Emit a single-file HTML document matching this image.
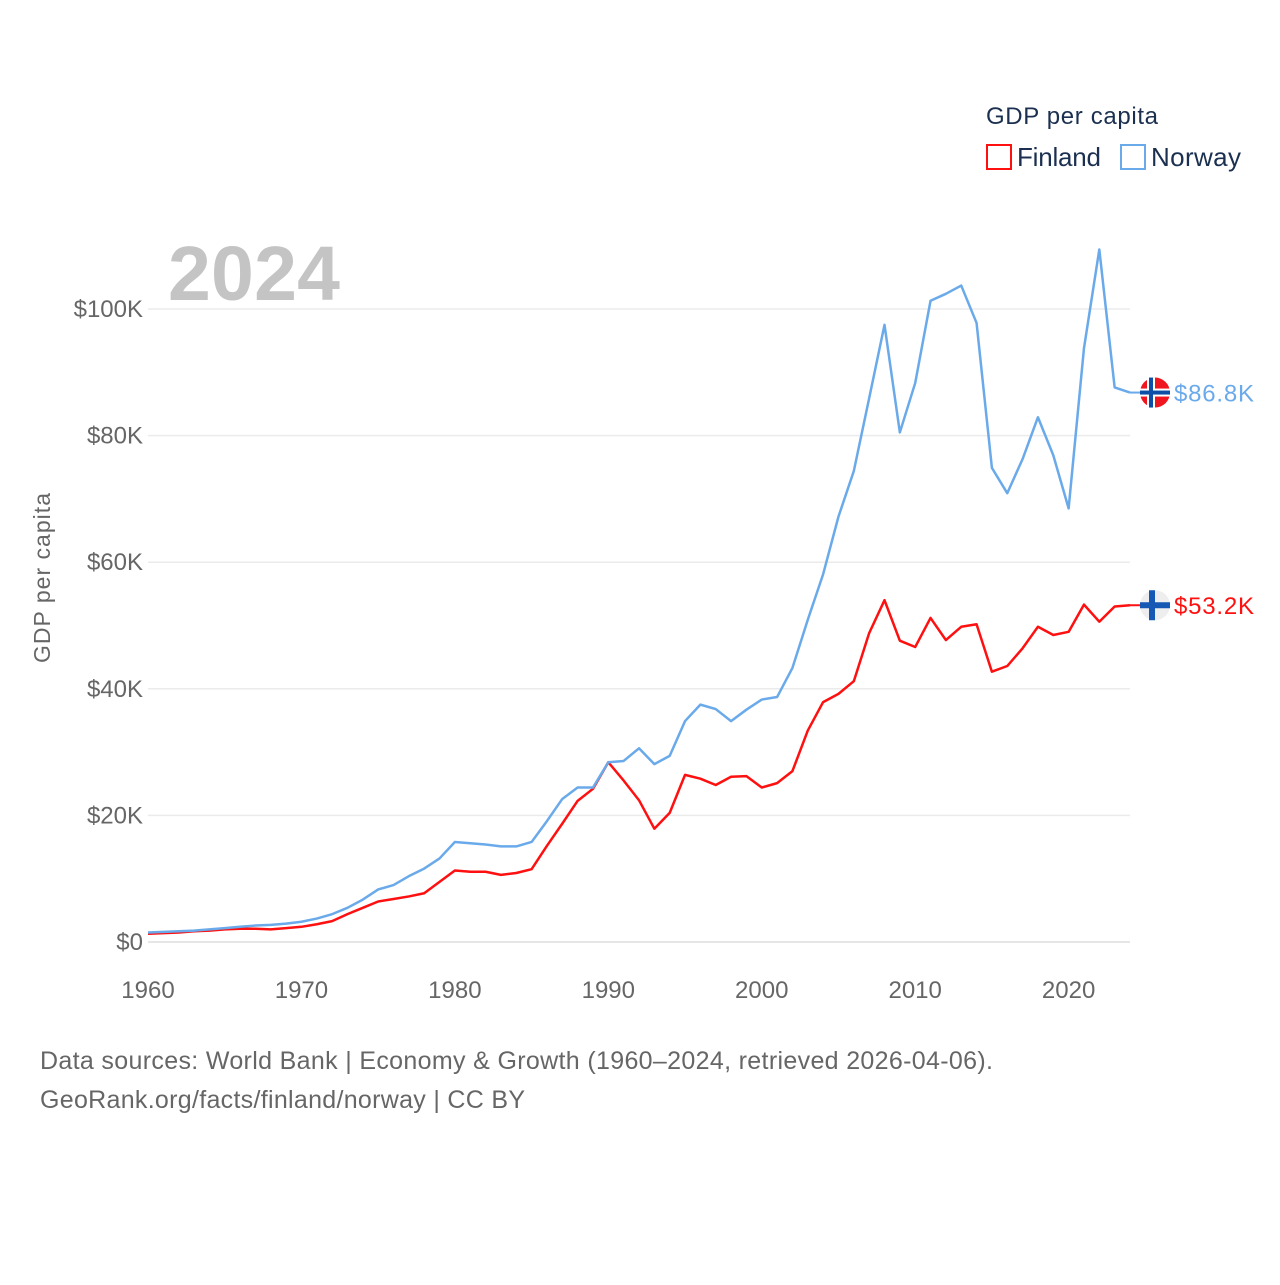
<!DOCTYPE html>
<html><head><meta charset="utf-8"><style>
body{margin:0;background:#fff;}
svg text{font-family:"Liberation Sans",sans-serif;}
</style></head><body>
<svg width="1280" height="1280" viewBox="0 0 1280 1280" xmlns="http://www.w3.org/2000/svg">
<rect width="1280" height="1280" fill="#fff"/>
<g id="grid"></g>
<g id="yticks"></g>
<g id="xticks"></g>
<text x="168" y="300" font-size="77" font-weight="bold" fill="#c4c4c4" textLength="172">2024</text>
<text transform="translate(50,578) rotate(-90)" text-anchor="middle" font-size="23" fill="#666" textLength="170">GDP per capita</text>
<g id="lines"></g>
<g id="ends"></g>
<g>
<text x="986" y="124" font-size="24" fill="#1b3050" textLength="172">GDP per capita</text>
<g><rect x="987" y="145" width="24" height="24" fill="none" stroke="#ff1010" stroke-width="2"/><text x="1017" y="166" font-size="26" fill="#1b3050" textLength="84">Finland</text></g>
<g><rect x="1121" y="145" width="24" height="24" fill="none" stroke="#6aaaea" stroke-width="2"/><text x="1151" y="166" font-size="26" fill="#1b3050" textLength="90">Norway</text></g>
</g>
<text x="40" y="1069" font-size="25" fill="#666" textLength="953">Data sources: World Bank | Economy &amp; Growth (1960–2024, retrieved 2026-04-06).</text>
<text x="40" y="1108" font-size="25" fill="#666" textLength="485">GeoRank.org/facts/finland/norway | CC BY</text>
</svg>
<script>
const years=[];for(let y=1960;y<=2024;y++)years.push(y);
const finland=[1.3,1.4,1.5,1.7,1.8,2.0,2.1,2.1,2.0,2.2,2.4,2.8,3.3,4.4,5.4,6.4,6.8,7.2,7.7,9.5,11.3,11.1,11.1,10.6,10.9,11.5,15.2,18.7,22.3,24.2,28.4,25.5,22.4,17.9,20.4,26.4,25.8,24.8,26.1,26.2,24.4,25.1,27.0,33.4,37.9,39.2,41.2,48.8,54.0,47.6,46.6,51.2,47.7,49.8,50.2,42.7,43.6,46.4,49.8,48.5,49.0,53.3,50.6,53.0,53.2];
const norway=[1.5,1.6,1.7,1.8,2.0,2.2,2.4,2.6,2.7,2.9,3.2,3.7,4.4,5.4,6.7,8.3,9.0,10.4,11.6,13.2,15.8,15.6,15.4,15.1,15.1,15.8,19.1,22.6,24.4,24.4,28.4,28.6,30.6,28.1,29.4,34.9,37.5,36.8,34.9,36.7,38.3,38.7,43.3,50.9,58.1,67.2,74.4,85.9,97.5,80.5,88.3,101.3,102.4,103.7,97.8,74.9,70.9,76.3,82.9,76.9,68.5,93.8,109.4,87.6,86.8];
const yTicks=[0,20,40,60,80,100];
const yTickLabels=["$0","$20K","$40K","$60K","$80K","$100K"];
const xTicks=[1960,1970,1980,1990,2000,2010,2020];
const endLabels=["$53.2K","$86.8K"];
const NS="http://www.w3.org/2000/svg";
const X=y=>148+(y-1960)*(1130-148)/64;
const Y=v=>942-v*6.33;
function mk(t,a,p){const e=document.createElementNS(NS,t);for(const k in a)e.setAttribute(k,a[k]);p.appendChild(e);return e;}
const grid=document.getElementById('grid'),yt=document.getElementById('yticks'),xt=document.getElementById('xticks');
yTicks.forEach((v,i)=>{
 const l=mk('line',{x1:148,x2:1130,y1:Y(v),y2:Y(v),stroke:i==0?'#dedede':'#ebebeb','stroke-width':1.5},grid);
 
 
 const t=mk('text',{x:143,y:Y(v)+8,'text-anchor':'end','font-size':24,fill:'#666'},yt);
 t.textContent=yTickLabels[i];
 
 
});
xTicks.forEach(y=>{
 const t=mk('text',{x:X(y),y:998,'text-anchor':'middle','font-size':24,fill:'#666'},xt);
 t.textContent=y;
 
 
});
const lines=document.getElementById('lines'),ends=document.getElementById('ends');
[[finland,'#ff1010','finland'],[norway,'#6aaaea','norway']].forEach(([d,c,n],i)=>{
 const pts=d.map((v,j)=>X(years[j])+','+Y(v)).join(' ');
 const p=mk('polyline',{points:pts,fill:'none',stroke:c,'stroke-width':2.5,'stroke-linejoin':'round'},lines);
 
 
 const last=d[d.length-1],ly=Y(last);
 mk('line',{x1:X(2024),x2:1142,y1:ly,y2:ly,stroke:c,'stroke-width':2},ends);
 const g=mk('g',{},ends);
 
 
 const cx=1155,r=15;
 if(n=='norway'){
  mk('circle',{cx:cx,cy:ly,r:r,fill:'#ef1620'},g);
  mk('rect',{x:cx-r,y:ly-4,width:2*r,height:8,fill:'#fff'},g);
  mk('rect',{x:cx-8,y:ly-r,width:8,height:2*r,fill:'#fff'},g);
  mk('rect',{x:cx-r,y:ly-2,width:2*r,height:4,fill:'#0d4ea6'},g);
  mk('rect',{x:cx-6,y:ly-r,width:4,height:2*r,fill:'#0d4ea6'},g);
 }else{
  mk('circle',{cx:cx,cy:ly,r:r,fill:'#eeeeee'},g);
  mk('rect',{x:cx-r,y:ly-3,width:2*r,height:6,fill:'#1559b5'},g);
  mk('rect',{x:cx-6,y:ly-r,width:6,height:2*r,fill:'#1559b5'},g);
 }
 const t=mk('text',{x:1174,y:ly+9,'font-size':24,fill:c,textLength:80},ends);
 t.textContent=endLabels[i];
 
 
});
</script>
</body></html>
